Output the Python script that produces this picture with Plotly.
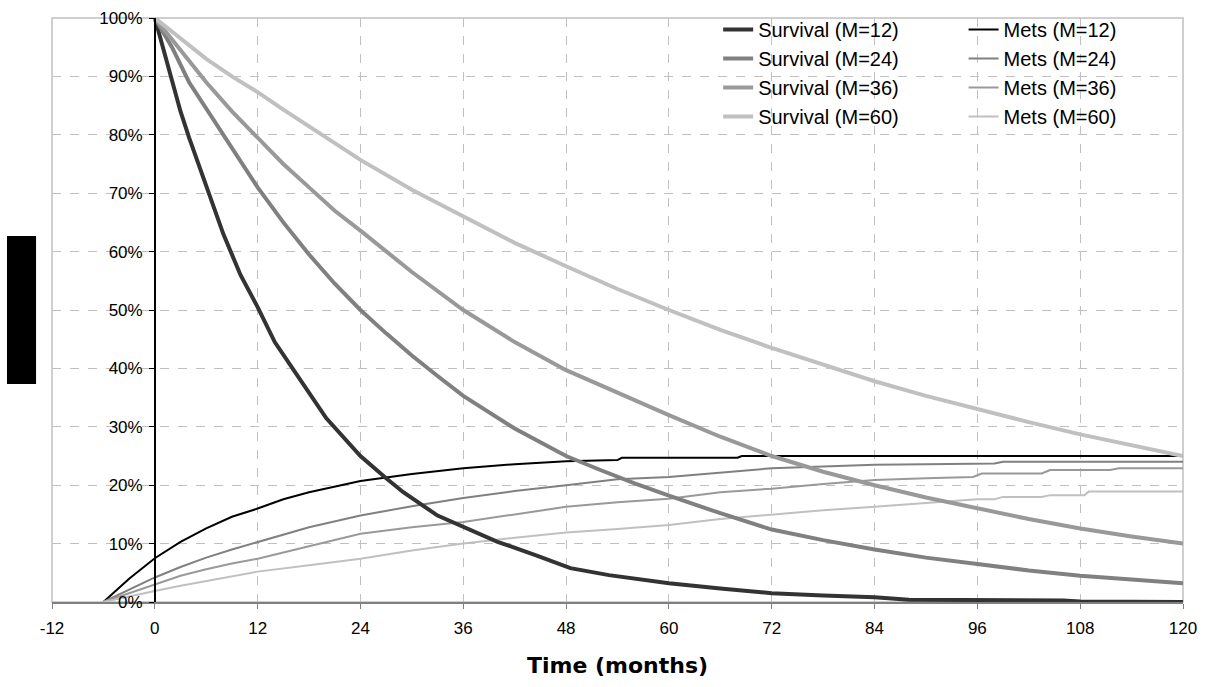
import plotly.graph_objects as go

# ---------------- data ----------------
surv12_t = [0, 1, 2, 3, 4, 6, 8, 10, 12, 14, 16, 17, 20, 24, 27, 29, 33, 36, 40, 44.5, 48.5, 53, 58, 60, 66, 72, 78, 84, 88, 100, 106, 108, 120]
surv12_v = [100, 94.5, 89, 84, 79.5, 71, 63, 56, 50.5, 44.5, 40, 38, 31.5, 25, 21.2, 18.8, 14.8, 12.8, 10.3, 8.0, 5.8, 4.6, 3.6, 3.2, 2.3, 1.5, 1.1, 0.8, 0.4, 0.35, 0.25, 0.1, 0.0]

surv24_t = [0, 2, 4, 6, 9, 12, 15, 18, 21, 24, 27, 30, 33, 36, 42, 48, 52, 56, 60, 66, 72, 78, 84, 90, 96, 102, 108, 114, 120]
surv24_v = [100, 95, 89, 84.5, 77.5, 71, 65, 59.5, 54.5, 50, 46, 42.2, 38.7, 35.3, 29.7, 25, 22.6, 20.3, 18.2, 15.2, 12.4, 10.6, 9.0, 7.6, 6.5, 5.4, 4.5, 3.8, 3.2]

surv36_t = [0, 3, 6, 9, 12, 15, 18, 21, 24, 30, 36, 42, 48, 52, 56, 60, 66, 72, 78, 84, 90, 96, 102, 108, 114, 120]
surv36_v = [100, 94.5, 89, 84, 79.5, 75, 71, 67, 63.6, 56.5, 50, 44.5, 39.7, 37.1, 34.5, 32, 28.3, 25, 22.3, 20, 17.9, 16, 14.2, 12.6, 11.2, 10]

surv60_t = [0, 3, 6, 9, 12, 15, 18, 21, 24, 30, 36, 42, 48, 54, 60, 66, 72, 78, 84, 90, 96, 102, 108, 114, 120]
surv60_v = [100, 96.5, 93, 90, 87.3, 84.3, 81.5, 78.5, 75.7, 70.6, 66, 61.5, 57.5, 53.6, 50, 46.6, 43.5, 40.6, 37.8, 35.3, 33, 30.8, 28.7, 26.8, 25]

mets12_t = [-6, -3, 0, 3, 6, 9, 12, 15, 18, 21, 24, 30, 36, 42, 48, 54, 54.5, 68, 68.5, 120]
mets12_v = [0, 4.0, 7.5, 10.3, 12.6, 14.6, 16.0, 17.6, 18.8, 19.8, 20.7, 21.9, 22.9, 23.6, 24.1, 24.3, 24.7, 24.7, 25.0, 25.0]

mets24_t = [-6, -3, 0, 3, 6, 9, 12, 18, 24, 30, 36, 42, 48, 54, 60, 66, 72, 78, 84, 90, 96, 98, 99, 120]
mets24_v = [0, 2.1, 4.2, 6.0, 7.6, 9.0, 10.3, 12.8, 14.8, 16.4, 17.8, 19.0, 20.0, 21.0, 21.4, 22.1, 22.9, 23.2, 23.5, 23.6, 23.7, 23.7, 24.0, 24.0]

mets36_t = [-6, -3, 0, 3, 6, 9, 12, 18, 24, 30, 36, 42, 48, 54, 60, 66, 72, 78, 84, 90, 95.5, 96.5, 103.5, 104.5, 111.5, 112.5, 120]
mets36_v = [0, 1.5, 3.0, 4.5, 5.6, 6.6, 7.4, 9.6, 11.7, 12.8, 13.7, 15.0, 16.3, 17.1, 17.7, 18.8, 19.4, 20.2, 20.9, 21.2, 21.4, 22.0, 22.0, 22.6, 22.6, 22.9, 22.9]

mets60_t = [-6, -3, 0, 3, 6, 9, 12, 18, 24, 30, 36, 42, 48, 54, 60, 66, 72, 78, 84, 90, 96, 98, 99, 103.5, 104.5, 108.5, 109, 120]
mets60_v = [0, 1.0, 1.9, 2.8, 3.6, 4.4, 5.2, 6.3, 7.4, 8.8, 10.0, 11.0, 11.9, 12.5, 13.2, 14.2, 15.0, 15.7, 16.3, 17.0, 17.6, 17.6, 18.0, 18.0, 18.3, 18.3, 18.9, 18.9]

x_tickvals = [-12, 0, 12, 24, 36, 48, 60, 72, 84, 96, 108, 120]
x_ticktext = ["-12", "0", "12", "24", "36", "48", "60", "72", "84", "96", "108", "120"]

survival = [
    ("Survival (M=12)", surv12_t, surv12_v, "#333333"),
    ("Survival (M=24)", surv24_t, surv24_v, "#808080"),
    ("Survival (M=36)", surv36_t, surv36_v, "#999999"),
    ("Survival (M=60)", surv60_t, surv60_v, "#c0c0c0"),
]
mets = [
    ("Mets (M=12)", mets12_t, mets12_v, "#000000"),
    ("Mets (M=24)", mets24_t, mets24_v, "#808080"),
    ("Mets (M=36)", mets36_t, mets36_v, "#999999"),
    ("Mets (M=60)", mets60_t, mets60_v, "#c0c0c0"),
]

FONT = "Arial, Liberation Sans, sans-serif"
PAPER_H = 687 - 85  # paper height in px (top margin 0)

fig = go.Figure()
for name, t, v, c in mets:
    fig.add_trace(go.Scatter(x=t, y=[a / 100 for a in v], mode="lines", name=name,
                             line=dict(color=c, width=2), legend="legend2"))
for name, t, v, c in survival:
    fig.add_trace(go.Scatter(x=t, y=[a / 100 for a in v], mode="lines", name=name,
                             line=dict(color=c, width=4), legend="legend"))

legend_common = dict(bgcolor="rgba(0,0,0,0)", borderwidth=0, font=dict(family=FONT, size=20, color="#000"),
                     tracegroupgap=0, yanchor="top", xanchor="left", traceorder="normal",
                     y=1 - 10 / PAPER_H)

fig.update_layout(
    width=1205, height=687,
    margin=dict(l=52, r=22, t=0, b=85, autoexpand=False),
    paper_bgcolor="white", plot_bgcolor="white",
    font=dict(family=FONT, size=17, color="#000"),
    legend=dict(x=0.589, **legend_common),
    legend2=dict(x=0.806, **legend_common),
    xaxis=dict(range=[-12, 120], tickvals=x_tickvals, ticktext=x_ticktext, automargin=False,
               showgrid=True, gridcolor="#c0c0c0", griddash="dash", gridwidth=1,
               zeroline=False, showline=True, linecolor="#808080", linewidth=2,
               ticks="outside", ticklen=5, tickcolor="#808080", ticklabelstandoff=5,
               tickfont=dict(family=FONT, size=17),
               title=dict(text="Time (months)", font=dict(family="DejaVu Sans", size=22, weight="bold"), standoff=20)),
    yaxis=dict(range=[0, 1], dtick=0.1, tickformat=".0%", domain=[0, 1 - 18 / PAPER_H], automargin=False,
               showgrid=True, gridcolor="#c0c0c0", griddash="dash", gridwidth=1,
               zeroline=False, showline=True, linecolor="#000000", linewidth=1.5,
               anchor="free", position=12 / 132,
               ticks="outside", ticklen=5, tickcolor="#000000", ticklabelstandoff=3,
               tickfont=dict(family=FONT, size=17)),
    showlegend=True,
)

# plot-area frame
fig.add_shape(type="rect", xref="x domain", yref="y domain", x0=0, x1=1, y0=0, y1=1,
              line=dict(color="#c0c0c0", width=1.5), layer="below")
# redacted y-axis title block
fig.add_shape(type="rect", xref="paper", yref="paper", x0=-0.0398, x1=-0.0141,
              y0=(602 - 384) / PAPER_H, y1=(602 - 236) / PAPER_H,
              line=dict(width=0), fillcolor="#000000")

fig.write_html("out.html", config={"displayModeBar": False},
               post_script="document.body.style.margin='0';document.body.style.overflow='hidden';")
